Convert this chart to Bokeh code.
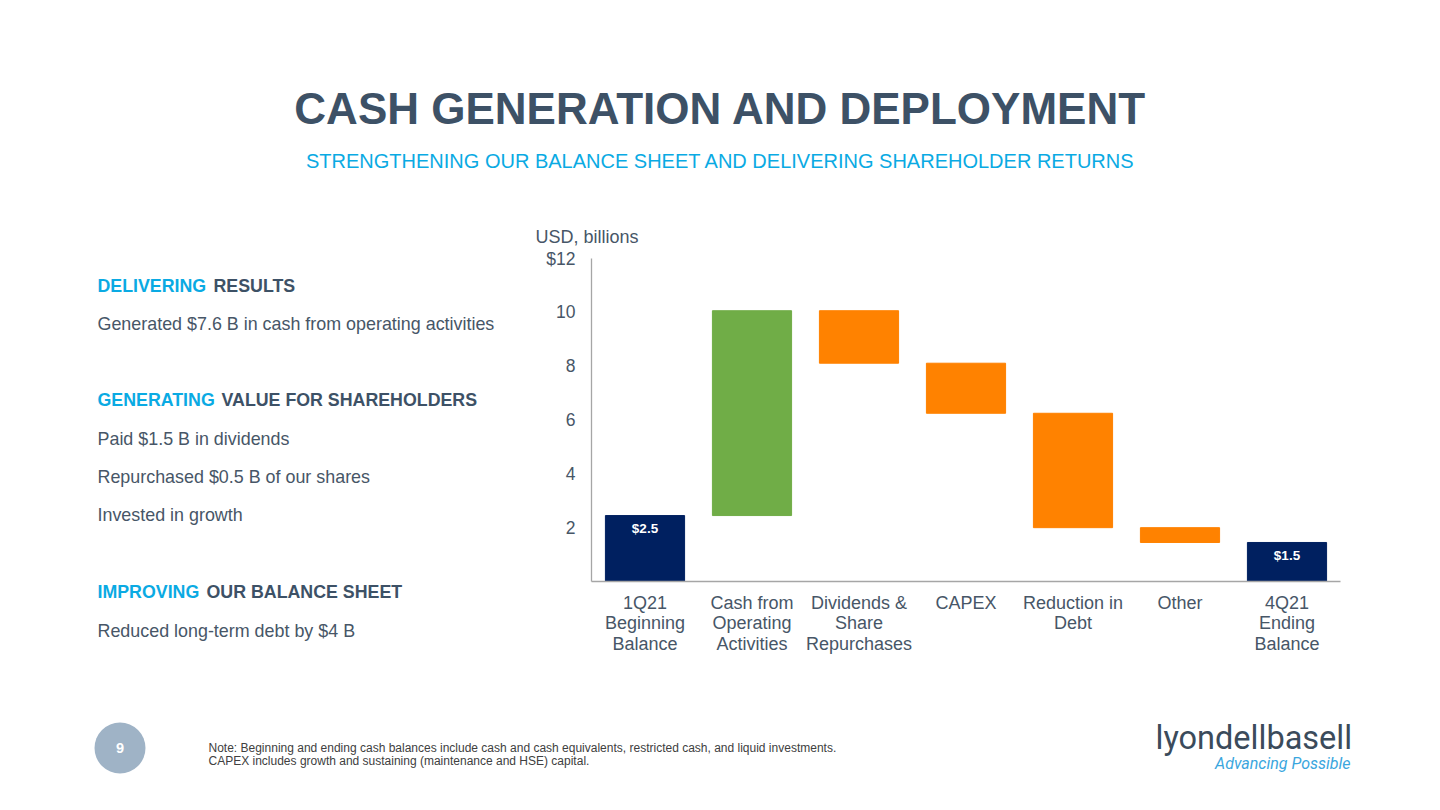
from bokeh.plotting import figure
from bokeh.models import ColumnDataSource, FixedTicker, Range1d, FactorRange
from bokeh.layouts import column, row
from bokeh.core.properties import value
from bokeh.embed import file_html
from bokeh.resources import INLINE

# ---------------- data ----------------
categories = [
    "1Q21\nBeginning\nBalance",
    "Cash from\nOperating\nActivities",
    "Dividends &\nShare\nRepurchases",
    "CAPEX",
    "Reduction in\nDebt",
    "Other",
    "4Q21\nEnding\nBalance",
]
changes = [2.45, 7.61, -1.95, -1.86, -4.25, -0.55, 1.45]
kinds = ["total", "up", "down", "down", "down", "down", "total"]
bar_labels = ["$2.5", "", "", "", "", "", "$1.5"]
y_ticks = [2, 4, 6, 8, 10, 12]

COL = {"total": "#002060", "up": "#70ad47", "down": "#ff8200"}

# waterfall geometry from the changes
bottoms, tops, colors = [], [], []
running = 0.0
for c, k in zip(changes, kinds):
    if k == "total":
        b, t = 0.0, c
        running = c
    else:
        b, t = sorted([running, running + c])
        running += c
    bottoms.append(b)
    tops.append(t)
    colors.append(COL[k])

src = ColumnDataSource(dict(x=categories, bottom=bottoms, top=tops, color=colors,
                            lab=bar_labels))

FONT = "Liberation Sans"
SLATE = "#3d5166"
TEXT = "#475667"
CYAN = "#0aaae3"

PW = 1424           # page width used
Y_MID0, Y_MID1 = 248, 700   # middle band (page y)
X_CH0 = 525         # chart figure left (page x)
FRAME_L, FRAME_R, FRAME_T, FRAME_B = 591, 1340, 258, 581   # chart frame (page px)


def no_align(f):
    if "frame_align" in f.properties():
        f.frame_align = False


def text_fig(x0, x1, y0, y1):
    f = figure(width=x1 - x0, height=y1 - y0, x_range=Range1d(x0, x1),
               y_range=Range1d(y1, y0), x_axis_type=None, y_axis_type=None,
               output_backend="svg", toolbar_location=None, min_border=0)
    f.outline_line_color = None
    f.xgrid.grid_line_color = None
    f.ygrid.grid_line_color = None
    f.background_fill_color = "white"
    f.border_fill_color = "white"
    no_align(f)
    return f


def txt(f, text, X, Yc, size, color, bold=False, italic=False, align="left", font=FONT):
    """Yc is the vertical centre of the capitals (page px)."""
    style = "bold" if bold else ("italic" if italic else "normal")
    f.text(x=[X], y=[Yc], text=[text], text_font=value(font), text_font_size=f"{size}px",
           text_color=color, text_font_style=style, text_align=align,
           text_baseline="middle")


# ---------------- header ----------------
header = text_fig(0, PW, 0, Y_MID0)
txt(header, "CASH GENERATION AND DEPLOYMENT", 720, 108, 44, SLATE, bold=True, align="center")
txt(header, "STRENGTHENING OUR BALANCE SHEET AND DELIVERING SHAREHOLDER RETURNS", 720, 160.5,
    20, CYAN, align="center")
txt(header, "USD, billions", 535, 236.3, 18, TEXT)

# ---------------- left column ----------------
HS, BS = 17.8, 17.9
left = text_fig(0, X_CH0, Y_MID0, Y_MID1)
txt(left, "DELIVERING", 97, 285, HS, CYAN, bold=True)
txt(left, "RESULTS", 213, 285, HS, SLATE, bold=True)
txt(left, "Generated $7.6 B in cash from operating activities", 97, 323, BS, TEXT)
txt(left, "GENERATING", 97, 399.7, HS, CYAN, bold=True)
txt(left, "VALUE FOR SHAREHOLDERS", 221, 399.7, HS, SLATE, bold=True)
txt(left, "Paid $1.5 B in dividends", 97, 438, BS, TEXT)
txt(left, "Repurchased $0.5 B of our shares", 97, 476.3, BS, TEXT)
txt(left, "Invested in growth", 97, 514.7, BS, TEXT)
txt(left, "IMPROVING", 97, 591.7, HS, CYAN, bold=True)
txt(left, "OUR BALANCE SHEET", 206, 591.7, HS, SLATE, bold=True)
txt(left, "Reduced long-term debt by $4 B", 97, 630, BS, TEXT)

# ---------------- chart ----------------
p = figure(width=PW - X_CH0, height=Y_MID1 - Y_MID0,
           x_range=FactorRange(*categories, range_padding=0),
           y_range=Range1d(0, 12), output_backend="svg", toolbar_location=None,
           min_border_left=FRAME_L - X_CH0, min_border_right=PW - FRAME_R,
           min_border_top=FRAME_T - Y_MID0, min_border_bottom=Y_MID1 - FRAME_B)
p.outline_line_color = None
p.xgrid.grid_line_color = None
p.ygrid.grid_line_color = None
p.background_fill_color = "white"
p.border_fill_color = "white"
no_align(p)

p.vbar(x="x", bottom="bottom", top="top", width=0.74, fill_color="color",
       line_color="color", source=src)
p.text(x="x", y="top", text="lab", source=src, text_align="center",
       text_baseline="middle", y_offset=12.7, text_color="white",
       text_font=value(FONT), text_font_style="bold", text_font_size="13.5px")

ya = p.yaxis[0]
ya.ticker = FixedTicker(ticks=y_ticks)
ya.major_label_overrides = {12: "$12"}
ya.major_tick_line_color = None
ya.minor_tick_line_color = None
ya.major_tick_out = 0
ya.major_tick_in = 0
ya.major_label_standoff = 16
ya.axis_line_color = "#a6a6a6"
ya.axis_line_width = 1.3
ya.major_label_text_font = FONT
ya.major_label_text_font_size = "17.5px"
ya.major_label_text_color = TEXT

xa = p.xaxis[0]
xa.major_tick_line_color = None
xa.minor_tick_line_color = None
xa.major_tick_out = 0
xa.major_tick_in = 0
xa.major_label_standoff = 11
xa.axis_line_color = "#a6a6a6"
xa.axis_line_width = 1.3
xa.major_label_text_font = FONT
xa.major_label_text_font_size = "18px"
xa.major_label_text_color = TEXT
xa.major_label_text_line_height = 1.045

# ---------------- footer ----------------
footer = text_fig(0, PW, Y_MID1, 794)
footer.scatter(x=[119.5], y=[747.5], size=51, marker="circle", fill_color="#9fb3c6",
               line_color=None)
txt(footer, "9", 119.5, 747.5, 14.5, "white", bold=True, align="center")
txt(footer, "Note: Beginning and ending cash balances include cash and cash equivalents, "
    "restricted cash, and liquid investments.", 208, 747.5, 12, "#404040")
txt(footer, "CAPEX includes growth and sustaining (maintenance and HSE) capital.", 208, 760,
    12, "#404040")
txt(footer, "lyondellbasell", 1155, 737.5, 32.5, "#3b4b5b", font="Roboto")
txt(footer, "Advancing Possible", 1350, 762.5, 16, "#3aa6de", italic=True, align="right",
    font="Roboto")

page = column(header, row(left, p), footer)
open("out.html", "w").write(file_html(page, INLINE))
